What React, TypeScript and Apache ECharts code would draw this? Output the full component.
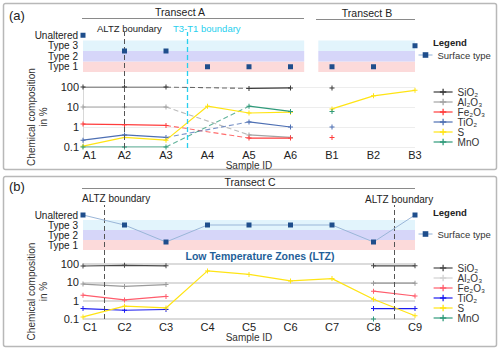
import { useEffect, useRef } from 'react';
import * as echarts from 'echarts';

// ---------- data ----------
const samplesAB = ['A1', 'A2', 'A3', 'A4', 'A5', 'A6', 'B1', 'B2', 'B3'];
const samplesC = ['C1', 'C2', 'C3', 'C4', 'C5', 'C6', 'C7', 'C8', 'C9'];
const surfaceTypes = ['', 'Type 1', 'Type 2', 'Type 3', 'Unaltered'];
const surfaceAB = [4, 2.5, 2.5, 1, 1, 1, 1, 1, 3];
const surfaceC = [4, 3, 1.3, 3, 3, 3, 3, 1.3, 4];

const elements = ['SiO₂', 'Al₂O₃', 'Fe₂O₃', 'TiO₂', 'S', 'MnO'];

// Transect A (A1–A6)
const sio2A = [100, 100, 100, null, 85, 90];
const al2o3A = [10, 10, 10, null, 0.4, 0.3];
const fe2o3A = [1.4, 1.3, 1.2, null, 0.28, 0.28];
const tio2A = [0.22, 0.4, 0.3, null, 1.8, 1.0];
const sA = [0.11, 0.3, 0.22, 11, 5, 5.5];
const mnoA = [0.1, 0.1, 0.1, null, 11, 6];
// Transect B (B1–B3)
const sio2B = [90, null, null];
const al2o3B = [null, null, null];
const fe2o3B = [0.3, null, null];
const tio2B = [1.0, null, null];
const sB = [8, 36, 68];
const mnoB = [6, null, null];
// Transect C (C1–C9)
const sio2C = [78, 85, 80, null, null, null, null, 80, 80];
const al2o3C = [8, 6, 7.5, null, null, null, null, 9, 9];
const fe2o3C = [2, 1.1, 1.7, null, null, null, null, 3.3, 1.8];
const tio2C = [0.37, 0.3, 0.33, null, null, null, null, 0.37, 0.37];
const sC = [0.13, 0.5, 0.4, 42, 27, 12, 16, 1.2, 0.15];
const mnoC = [null, null, null, null, null, null, null, 0.1, null];

// boundary positions (sample-index units)
const altzA = 1;
const t3t1A = 2.5;
const altzC = [0.5, 7.5];

// ---------- styles ----------
const FONT = 'Liberation Sans, Arial, Helvetica, sans-serif';
const colorsA = ['#3a3a3a', '#a3a3a3', '#ff3c3c', '#4d6fb3', '#ffe414', '#2f9a7a'];
const colorsC = ['#4a4a4a', '#9a9a9a', '#ff5c6c', '#1c1cf0', '#ffe414', '#2f9a7a'];
const legendColorsC = ['#4a4a4a', '#d2d2d2', '#ff5c6c', '#1c1cf0', '#ffe414', '#2f9a7a'];
const bandColors = { t1: '#fcdada', t2: '#d6d6f9', t3: '#e2f4fc' };
const markerColor = '#1f4e8c';
const PLUS = 'path://M4,0H6V4H10V6H6V10H4V6H0V4H4Z';

type V = number | null;
const toPts = (arr: V[], offset = 0) => arr.map((v, i) => [i + offset, v == null ? '-' : v]);
function bridges(arr: V[]) {
  const out: any[] = [];
  for (let i = 0; i < arr.length - 1; i++) {
    if (arr[i] != null && arr[i + 1] == null) {
      let j = i + 1;
      while (j < arr.length && arr[j] == null) j++;
      if (j < arr.length) out.push([[i, arr[i]], [j, arr[j]]]);
    }
  }
  return out;
}

function buildOption() {
  const series: any[] = [];
  const chemA = [sio2A, al2o3A, fe2o3A, tio2A, sA, mnoA];
  const chemB = [sio2B, al2o3B, fe2o3B, tio2B, sB, mnoB];
  const chemC = [sio2C, al2o3C, fe2o3C, tio2C, sC, mnoC];

  const bandsFor = (ranges: number[][]) => {
    const out: any[] = [];
    ranges.forEach(([x0, x1]) => {
      out.push([{ xAxis: x0, yAxis: 0.5, itemStyle: { color: bandColors.t1 } }, { xAxis: x1, yAxis: 1.5 }]);
      out.push([{ xAxis: x0, yAxis: 1.5, itemStyle: { color: bandColors.t2 } }, { xAxis: x1, yAxis: 2.5 }]);
      out.push([{ xAxis: x0, yAxis: 2.5, itemStyle: { color: bandColors.t3 } }, { xAxis: x1, yAxis: 3.5 }]);
    });
    return out;
  };

  // Panel (a) surface type
  series.push({
    name: 'Surface type', type: 'line', xAxisIndex: 0, yAxisIndex: 0,
    data: toPts(surfaceAB), symbol: 'rect', symbolSize: 5,
    itemStyle: { color: markerColor }, lineStyle: { opacity: 0, width: 1, color: '#8fb0d8' },
    silent: true, z: 5,
    markArea: { silent: true, data: bandsFor([[0, 5.33], [5.67, 8]]) },
  });
  // Panel (b) surface type
  series.push({
    name: 'Surface type', type: 'line', xAxisIndex: 3, yAxisIndex: 3,
    data: toPts(surfaceC), symbol: 'rect', symbolSize: 5,
    itemStyle: { color: markerColor }, lineStyle: { width: 1, color: '#9ab6d8' },
    silent: true, z: 5,
    markArea: { silent: true, data: bandsFor([[0, 8]]) },
  });

  // Panel (a) chemistry
  elements.forEach((name, k) => {
    const c = colorsA[k];
    series.push({
      name, type: 'line', xAxisIndex: 1, yAxisIndex: 1, data: toPts(chemA[k]),
      symbol: PLUS, symbolSize: 5, showSymbol: true, connectNulls: false,
      itemStyle: { color: c }, lineStyle: { color: c, width: 1.2 }, silent: true, z: 4,
    });
    bridges(chemA[k]).forEach((seg) => {
      series.push({
        name, type: 'line', xAxisIndex: 1, yAxisIndex: 1, data: seg,
        symbol: 'none', itemStyle: { color: c },
        lineStyle: { color: c, width: 1.1, type: [5, 3], opacity: 0.75 }, silent: true, z: 3,
      });
    });
    series.push({
      name, type: 'line', xAxisIndex: 1, yAxisIndex: 1, data: toPts(chemB[k], 6),
      symbol: PLUS, symbolSize: 5, showSymbol: true, connectNulls: false,
      itemStyle: { color: c }, lineStyle: { color: c, width: 1.2 }, silent: true, z: 4,
    });
  });

  // Panel (b) chemistry
  elements.forEach((name, k) => {
    const c = colorsC[k];
    series.push({
      name, type: 'line', xAxisIndex: 4, yAxisIndex: 4, data: toPts(chemC[k]),
      symbol: PLUS, symbolSize: 5, showSymbol: true, connectNulls: false,
      itemStyle: { color: c }, lineStyle: { color: c, width: 1.2 }, silent: true, z: 4,
    });
  });

  // Overlays: boundary lines
  series.push({
    type: 'line', xAxisIndex: 2, yAxisIndex: 2, data: [], silent: true,
    markLine: {
      silent: true, symbol: ['none', 'none'], label: { show: false },
      data: [
        { xAxis: altzA, lineStyle: { color: '#555', width: 1, type: [5, 3] } },
        { xAxis: t3t1A, lineStyle: { color: '#27d0ef', width: 1.3, type: [5, 3] } },
      ],
    },
  });
  series.push({
    type: 'line', xAxisIndex: 5, yAxisIndex: 5, data: [], silent: true,
    markLine: {
      silent: true, symbol: ['none', 'none'], label: { show: false },
      data: altzC.map((x) => ({ xAxis: x, lineStyle: { color: '#555', width: 1, type: [5, 3] } })),
    },
  });

  const L = 83, W = 332;
  const grid = [
    { left: L, width: W, top: 30, height: 42 },
    { left: L, width: W, top: 87, height: 60 },
    { left: L, width: W, top: 32, height: 116 },
    { left: L, width: W, top: 210, height: 40 },
    { left: L, width: W, top: 264, height: 55 },
    { left: L, width: W, top: 205, height: 114 },
  ];

  const xAx = (gridIndex: number, labels: string[] | null, nameGap = 10) => ({
    type: 'value', gridIndex, min: 0, max: 8, interval: 1,
    axisLine: { show: false }, axisTick: { show: false }, splitLine: { show: false },
    axisLabel: labels
      ? {
          show: true, fontSize: 11, color: '#222', margin: 2, fontFamily: FONT,
          alignMinLabel: 'left',
          formatter: (v: number) => labels[v] ?? '',
        }
      : { show: false },
    name: labels ? 'Sample ID' : '', nameLocation: 'middle', nameGap,
    nameTextStyle: { fontSize: 10, color: '#333', fontFamily: FONT },
  });
  const surfY = (gridIndex: number) => ({
    type: 'value', gridIndex, min: 0.5, max: 4.5, interval: 0.5,
    axisLine: { show: false }, axisTick: { show: false }, splitLine: { show: false },
    axisLabel: {
      fontSize: 10, color: '#222', margin: 5, fontFamily: FONT,
      formatter: (v: number) => (Number.isInteger(v) ? surfaceTypes[v] : ''),
    },
  });
  const logY = (gridIndex: number, gridColor: string, gridWidth: number, axisLine: boolean) => ({
    type: 'log', logBase: 10, gridIndex, min: 0.1, max: 100,
    axisLine: { show: axisLine, lineStyle: { color: '#d8d8d8' } }, axisTick: { show: false },
    splitLine: { show: true, lineStyle: { color: gridColor, width: gridWidth } },
    axisLabel: {
      fontSize: 11, color: '#222', margin: 4, fontFamily: FONT,
      formatter: (v: number) => String(+Number(v).toPrecision(3)),
    },
    name: 'Chemical composition\nin %', nameLocation: 'middle', nameGap: 18, nameRotate: 90,
    nameTextStyle: { fontSize: 10, lineHeight: 12, color: '#333', fontFamily: FONT },
  });
  const hidY = (gridIndex: number) => ({ type: 'value', gridIndex, min: 0, max: 1, show: false });

  const legendChem = (top: number, colors: string[]) => ({
    orient: 'vertical', left: 433, top, itemWidth: 19, itemHeight: 8, itemGap: 0, padding: 0,
    selectedMode: false,
    textStyle: { fontSize: 10, lineHeight: 10, color: '#333', fontFamily: FONT },
    data: elements.map((name, k) => ({
      name, itemStyle: { color: colors[k] }, lineStyle: { color: colors[k], width: 1.2, opacity: 1, type: 'solid' },
    })),
  });
  const legendSurf = (top: number) => ({
    orient: 'vertical', left: 418, top, itemWidth: 14, itemHeight: 7, itemGap: 0, padding: 0,
    selectedMode: false,
    textStyle: { fontSize: 9.5, lineHeight: 10, color: '#333', fontFamily: FONT },
    data: [{ name: 'Surface type', itemStyle: { color: markerColor }, lineStyle: { color: '#8fb0d8', width: 1, opacity: 1 } }],
  });

  const txt = (text: string, x: number, y: number, extra: any = {}) => ({
    type: 'text', x, y, silent: true,
    style: { text, fontSize: 10, fontFamily: FONT, fill: '#222', align: 'left', verticalAlign: 'middle', ...extra },
  });
  const hline = (x1: number, x2: number, y: number) => ({
    type: 'line', silent: true, shape: { x1, y1: y, x2, y2: y }, style: { stroke: '#8a8a8a', lineWidth: 1 },
  });

  const graphic = [
    { type: 'rect', silent: true, shape: { x: 3.5, y: 3.5, width: 493, height: 166, r: 2 }, style: { fill: 'none', stroke: '#b8b8b8', lineWidth: 1.5 }, z: -10 },
    { type: 'rect', silent: true, shape: { x: 3.5, y: 176.5, width: 493, height: 170, r: 2 }, style: { fill: 'none', stroke: '#b8b8b8', lineWidth: 1.5 }, z: -10 },
    txt('(a)', 9, 15, { fontSize: 13 }),
    txt('(b)', 9, 186, { fontSize: 13 }),
    txt('Transect A', 180, 12, { align: 'center', fontSize: 10.5 }),
    hline(82, 304, 18.5),
    txt('Transect B', 367, 13, { align: 'center', fontSize: 10.5 }),
    hline(316, 415, 19.5),
    txt('ALTZ boundary', 97, 28, { fontSize: 9.5 }),
    txt('T3-T1 boundary', 173, 28, { fontSize: 9.5, fill: '#27cfee' }),
    txt('Legend', 433, 42, { fontSize: 9.5, fontWeight: 'bold' }),
    txt('Transect C', 250, 182, { align: 'center', fontSize: 10.5 }),
    hline(82, 415, 188.5),
    txt('ALTZ boundary', 82, 198, { fontSize: 10 }),
    txt('ALTZ boundary', 365, 199, { fontSize: 10 }),
    txt('Legend', 433, 212, { fontSize: 9.5, fontWeight: 'bold' }),
    txt('Low Temperature Zones (LTZ)', 260, 256, { align: 'center', fontSize: 10.5, fontWeight: 'bold', fill: '#1f5f99' }),
  ];

  return {
    animation: false,
    backgroundColor: '#ffffff',
    textStyle: { fontFamily: FONT },
    grid,
    xAxis: [xAx(0, null), xAx(1, samplesAB, 11), xAx(2, null), xAx(3, null), xAx(4, samplesC, 13), xAx(5, null)],
    yAxis: [surfY(0), logY(1, '#ededed', 1, true), hidY(2), surfY(3), logY(4, '#cfcfcf', 1.5, false), hidY(5)],
    legend: [legendSurf(50), legendChem(87, colorsA), legendSurf(229), legendChem(263, legendColorsC)],
    graphic,
    series,
  };
}

export default function App() {
  const ref = useRef<HTMLDivElement>(null);
  useEffect(() => {
    if (!ref.current) return;
    const chart = echarts.init(ref.current, undefined, { renderer: 'svg' });
    chart.setOption(buildOption() as any);
    return () => chart.dispose();
  }, []);
  return (
    <div
      ref={ref}
      style={{ position: 'fixed', left: 0, top: 0, width: 500, height: 351, background: '#fff' }}
    />
  );
}
